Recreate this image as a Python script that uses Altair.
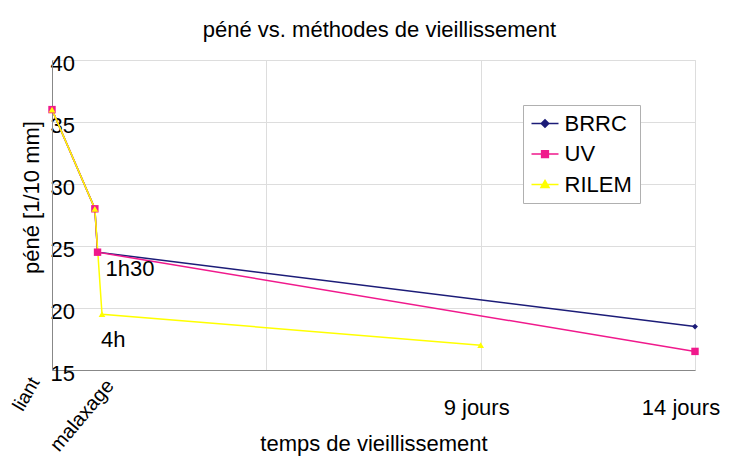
import altair as alt
import pandas as pd

FONT = "Liberation Sans"

series = ["BRRC", "UV", "RILEM"]
colors = ["#1c1c78", "#f0198c", "#ffff00"]
marker_shapes = ["diamond", "square", "triangle-up"]
marker_sizes = [35, 55, 45]

# x = elapsed ageing time (days, shifted so that liant = 0, malaxage = 1)
brrc_t = [0, 1, 1.0625, 15]
brrc_pene = [36, 28, 24.5, 18.5]
uv_t = [0, 1, 1.0625, 15]
uv_pene = [36, 28, 24.5, 16.5]
rilem_t = [0, 1, 1.1667, 10]
rilem_pene = [36, 28, 19.5, 17]

tick_t = [0, 1, 10, 15]
tick_text = ["liant", "malaxage", "9 jours", "14 jours"]

ann_t = [1.0625, 1.1667]
ann_pene = [24.5, 19.5]
ann_text = ["1h30", "4h"]

y_ticks = [15, 20, 25, 30, 35, 40]
x_grid = [0, 5, 10, 15]

rows = []
for name, ts, ps in [("BRRC", brrc_t, brrc_pene), ("UV", uv_t, uv_pene), ("RILEM", rilem_t, rilem_pene)]:
    for t, p in zip(ts, ps):
        rows.append({"series": name, "t": t, "pene": p})
df = pd.DataFrame(rows)
ticks_df = pd.DataFrame({"t": tick_t, "label": tick_text})
ann_df = pd.DataFrame({"t": ann_t, "pene": ann_pene, "label": ann_text})

xscale = alt.Scale(domain=[0, 15], nice=False, zero=False)
yscale = alt.Scale(domain=[15, 40], nice=False, zero=False)

x_enc = alt.X("t:Q", scale=xscale, axis=alt.Axis(
    values=x_grid, labels=False, ticks=False, grid=True,
    title="temps de vieillissement", titleY=80, titleBaseline="alphabetic",
    titleFont=FONT, titleFontSize=22, titleFontWeight="normal", titleColor="black"))
y_enc = alt.Y("pene:Q", scale=yscale, axis=alt.Axis(
    values=y_ticks, ticks=False, grid=True, labelAlign="left", labelPadding=2,
    labelOffset=3, labelBaseline="middle", labelFont=FONT, labelFontSize=22,
    labelColor="black",
    title="péné [1/10 mm]", titleX=-9, titleY=137, titleAngle=270,
    titleBaseline="bottom", titleAlign="center", titleFont=FONT,
    titleFontSize=22, titleFontWeight="normal", titleColor="black"))

base = alt.Chart(df)

line_layers = [
    base.transform_filter(alt.datum.series == s).mark_line(
        strokeWidth=1.5, color=colors[i]).encode(x=x_enc, y=y_enc, order="t:Q")
    for i, s in enumerate(series)
]
point_layers = [
    base.transform_filter(alt.datum.series == s).mark_point(
        filled=True, opacity=1, shape=marker_shapes[i], size=marker_sizes[i], color=colors[i]
    ).encode(x=x_enc, y=y_enc)
    for i, s in enumerate(series)
]

# legend symbols: a line segment with the marker drawn as concentric outlines
legend_paths = [
    "M-1,0H1M-0.28,0L0,-0.28L0.28,0L0,0.28ZM-0.17,0L0,-0.17L0.17,0L0,0.17ZM-0.06,0L0,-0.06L0.06,0L0,0.06Z",
    "M-1,0H1M-0.25,-0.25H0.25V0.25H-0.25ZM-0.15,-0.15H0.15V0.15H-0.15ZM-0.05,-0.05H0.05V0.05H-0.05Z",
    "M-1,0H1M0,-0.3L0.3,0.22H-0.3ZM0,-0.18L0.18,0.13H-0.18ZM0,-0.075L0.075,0.055H-0.075Z",
]
leg = alt.Legend(title=None, orient="none", legendX=471, legendY=45, padding=7.5,
                 strokeColor="#b0b0b0", fillColor="white", labelFont=FONT,
                 labelFontSize=22, labelColor="black", symbolSize=729,
                 symbolStrokeWidth=1.5, symbolOpacity=1, clipHeight=22,
                 rowPadding=8.5, labelOffset=5)
legend_layer = base.mark_point(filled=False, opacity=0, size=10).encode(
    x=x_enc, y=y_enc,
    color=alt.Color("series:N", scale=alt.Scale(domain=series, range=colors), legend=leg),
    shape=alt.Shape("series:N", scale=alt.Scale(domain=series, range=legend_paths), legend=leg),
)

tick_base = alt.Chart(ticks_df)
def tick_label(i, size=22, **kw):
    return tick_base.transform_filter(alt.datum.label == tick_text[i]).mark_text(
        font=FONT, fontSize=size, color="black", **kw).encode(
        x=alt.X("t:Q", scale=xscale), y=alt.datum(15), text="label:N")

lab_liant = tick_label(0, size=19, angle=300, align="right", baseline="middle", dx=-16.3, dy=-10.2)
lab_malax = tick_label(1, size=20, angle=310, align="right", baseline="middle", dx=0.3, dy=19.8)
lab_9 = tick_label(2, align="center", baseline="alphabetic", dx=-4, dy=45)
lab_14 = tick_label(3, align="center", baseline="alphabetic", dx=-14, dy=45)

ann_base = alt.Chart(ann_df)
def ann_label(i, **kw):
    return ann_base.transform_filter(alt.datum.label == ann_text[i]).mark_text(
        font=FONT, fontSize=22, color="black", align="left", baseline="alphabetic", **kw).encode(
        x=alt.X("t:Q", scale=xscale), y=alt.Y("pene:Q", scale=yscale), text="label:N")

ann_1 = ann_label(0, dx=8, dy=24)
ann_2 = ann_label(1, dx=-1, dy=33)

chart = alt.layer(
    *line_layers, *point_layers, legend_layer, lab_liant, lab_malax, lab_9, lab_14, ann_1, ann_2
).properties(
    width=643, height=310,
    autosize="none",
    padding={"left": 44, "top": 52, "right": 26, "bottom": 91},
    title=alt.TitleParams("péné vs. méthodes de vieillissement", font=FONT, fontSize=22,
                          fontWeight="normal", color="black", anchor="middle",
                          baseline="alphabetic", offset=19, dx=6, dy=26),
).configure_view(stroke="#c0c0c0", strokeWidth=1).configure_axis(
    gridColor="#c8c8c8", gridWidth=1, domainColor="#c0c0c0", domainWidth=1
).configure(background="white")

chart.save("out.html", embed_options={"renderer": "svg", "actions": False})
